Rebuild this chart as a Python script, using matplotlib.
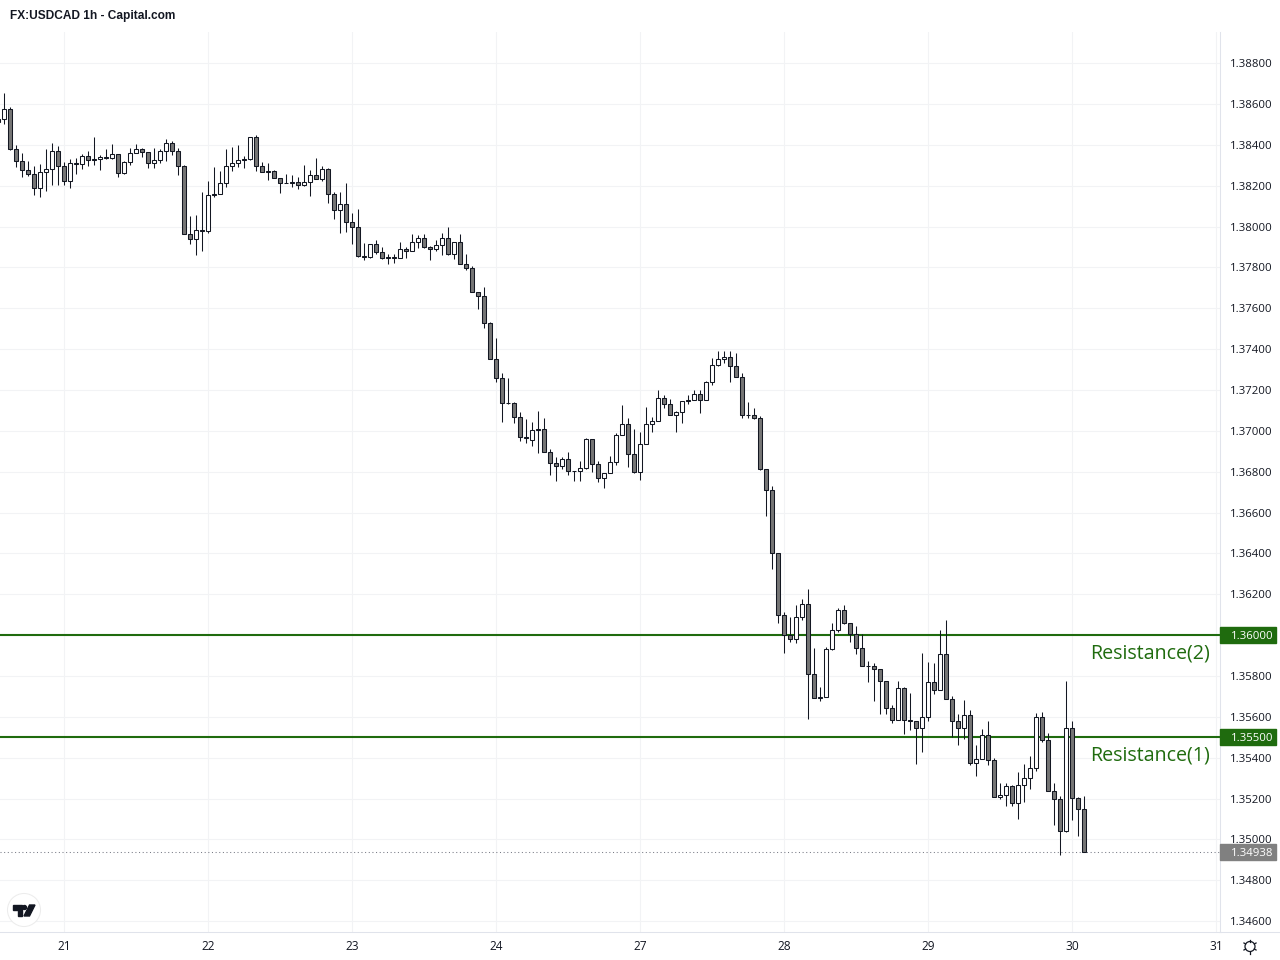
import matplotlib
matplotlib.use('Agg')
import matplotlib.pyplot as plt
import numpy as np
from matplotlib.lines import Line2D
from matplotlib.patches import Circle, Polygon, Rectangle
from matplotlib.transforms import Affine2D

# hourly candles
opens = [1.38527,
    1.38527, 1.38576, 1.38380, 1.38322, 1.38278, 1.38258, 1.38190, 1.38268, 1.38283, 1.38371,
    1.38297, 1.38224, 1.38312, 1.38307, 1.38346, 1.38331, 1.38331, 1.38341, 1.38336, 1.38356,
    1.38263, 1.38317, 1.38361, 1.38380, 1.38366, 1.38312, 1.38327, 1.38371, 1.38410, 1.38371,
    1.38297, 1.37965, 1.37940, 1.37984, 1.37979, 1.38160, 1.38160, 1.38214, 1.38297, 1.38311,
    1.38331, 1.38331, 1.38439, 1.38297, 1.38272, 1.38272, 1.38238, 1.38214, 1.38219, 1.38219,
    1.38204, 1.38219, 1.38253, 1.38233, 1.38282, 1.38160, 1.38082, 1.38111, 1.38023, 1.37999,
    1.37856, 1.37851, 1.37915, 1.37876, 1.37851, 1.37851, 1.37847, 1.37891, 1.37881, 1.37925,
    1.37944, 1.37900, 1.37891, 1.37910, 1.37944, 1.37866, 1.37925, 1.37817, 1.37798, 1.37680,
    1.37661, 1.37529, 1.37353, 1.37260, 1.37138, 1.37138, 1.37069, 1.36971, 1.36957, 1.37010,
    1.37010, 1.36897, 1.36843, 1.36828, 1.36862, 1.36804, 1.36804, 1.36818, 1.36960, 1.36838,
    1.36770, 1.36794, 1.36848, 1.36980, 1.37034, 1.36887, 1.36799, 1.36936, 1.37034, 1.37048,
    1.37161, 1.37131, 1.37078, 1.37092, 1.37151, 1.37151, 1.37180, 1.37151, 1.37239, 1.37322,
    1.37351, 1.37361, 1.37317, 1.37263, 1.37078, 1.37078, 1.37063, 1.36814, 1.36711, 1.36403,
    1.36100, 1.36002, 1.35982, 1.36090, 1.36152, 1.35810, 1.35698, 1.35698, 1.35932, 1.36025,
    1.36123, 1.36060, 1.36006, 1.35937, 1.35849, 1.35848, 1.35835, 1.35776, 1.35644, 1.35585,
    1.35742, 1.35585, 1.35580, 1.35546, 1.35600, 1.35771, 1.35732, 1.35908, 1.35688, 1.35580,
    1.35546, 1.35609, 1.35375, 1.35394, 1.35512, 1.35389, 1.35208, 1.35218, 1.35262, 1.35179,
    1.35267, 1.35301, 1.35350, 1.35600, 1.35487, 1.35238, 1.35199, 1.35042, 1.35546, 1.35204,
    1.35150]
highs = [1.38530,
    1.38654, 1.38586, 1.38400, 1.38361, 1.38322, 1.38297, 1.38307, 1.38380, 1.38410, 1.38395,
    1.38317, 1.38331, 1.38336, 1.38356, 1.38371, 1.38436, 1.38351, 1.38380, 1.38405, 1.38356,
    1.38322, 1.38385, 1.38405, 1.38385, 1.38366, 1.38385, 1.38380, 1.38429, 1.38420, 1.38385,
    1.38302, 1.38053, 1.38058, 1.38170, 1.38225, 1.38289, 1.38274, 1.38377, 1.38387, 1.38401,
    1.38347, 1.38439, 1.38450, 1.38318, 1.38313, 1.38277, 1.38238, 1.38259, 1.38250, 1.38240,
    1.38303, 1.38277, 1.38333, 1.38297, 1.38287, 1.38170, 1.38171, 1.38215, 1.38064, 1.38087,
    1.37920, 1.37915, 1.37935, 1.37900, 1.37866, 1.37866, 1.37925, 1.37900, 1.37961, 1.37956,
    1.37961, 1.37904, 1.37936, 1.37969, 1.38000, 1.37925, 1.37961, 1.37866, 1.37807, 1.37680,
    1.37705, 1.37534, 1.37455, 1.37284, 1.37260, 1.37142, 1.37093, 1.37059, 1.37045, 1.37098,
    1.37064, 1.36911, 1.36872, 1.36872, 1.36897, 1.36804, 1.36853, 1.36965, 1.36960, 1.36853,
    1.36794, 1.36877, 1.36990, 1.37127, 1.37063, 1.37009, 1.36994, 1.37117, 1.37068, 1.37200,
    1.37175, 1.37156, 1.37097, 1.37146, 1.37175, 1.37200, 1.37200, 1.37244, 1.37356, 1.37392,
    1.37392, 1.37392, 1.37381, 1.37283, 1.37143, 1.37112, 1.37073, 1.36814, 1.36730, 1.36403,
    1.36114, 1.36090, 1.36148, 1.36178, 1.36227, 1.35937, 1.35747, 1.35942, 1.36060, 1.36133,
    1.36148, 1.36060, 1.36045, 1.36006, 1.35872, 1.35862, 1.35835, 1.35776, 1.35659, 1.35776,
    1.35747, 1.35717, 1.35580, 1.35913, 1.35870, 1.35864, 1.36027, 1.36076, 1.35702, 1.35614,
    1.35683, 1.35634, 1.35463, 1.35541, 1.35580, 1.35399, 1.35277, 1.35277, 1.35267, 1.35331,
    1.35370, 1.35409, 1.35619, 1.35624, 1.35521, 1.35277, 1.35213, 1.35777, 1.35580, 1.35208,
    1.35213]
lows = [1.38505,
    1.38503, 1.38374, 1.38291, 1.38242, 1.38247, 1.38154, 1.38144, 1.38173, 1.38203, 1.38203,
    1.38203, 1.38188, 1.38255, 1.38283, 1.38296, 1.38300, 1.38276, 1.38330, 1.38331, 1.38242,
    1.38257, 1.38300, 1.38361, 1.38340, 1.38286, 1.38286, 1.38310, 1.38320, 1.38349, 1.38252,
    1.37965, 1.37914, 1.37860, 1.37880, 1.37968, 1.38144, 1.38160, 1.38193, 1.38271, 1.38289,
    1.38284, 1.38326, 1.38274, 1.38268, 1.38227, 1.38238, 1.38166, 1.38212, 1.38193, 1.38183,
    1.38197, 1.38147, 1.38233, 1.38222, 1.38114, 1.38039, 1.37968, 1.37972, 1.37914, 1.37850,
    1.37835, 1.37847, 1.37866, 1.37842, 1.37816, 1.37820, 1.37847, 1.37845, 1.37881, 1.37897,
    1.37894, 1.37835, 1.37881, 1.37860, 1.37860, 1.37840, 1.37817, 1.37786, 1.37680, 1.37595,
    1.37503, 1.37353, 1.37239, 1.37043, 1.37133, 1.37040, 1.36950, 1.36940, 1.36926, 1.36893,
    1.36898, 1.36783, 1.36753, 1.36814, 1.36783, 1.36753, 1.36753, 1.36814, 1.36797, 1.36748,
    1.36719, 1.36794, 1.36831, 1.36980, 1.36822, 1.36794, 1.36758, 1.36936, 1.36996, 1.37048,
    1.37110, 1.37078, 1.36993, 1.37039, 1.37130, 1.37151, 1.37086, 1.37151, 1.37224, 1.37317,
    1.37332, 1.37237, 1.37263, 1.37063, 1.37063, 1.37056, 1.36807, 1.36582, 1.36323, 1.36059,
    1.35912, 1.35966, 1.35961, 1.36074, 1.35588, 1.35693, 1.35677, 1.35696, 1.35928, 1.36014,
    1.36055, 1.35967, 1.35906, 1.35849, 1.35769, 1.35677, 1.35613, 1.35613, 1.35569, 1.35585,
    1.35515, 1.35535, 1.35368, 1.35427, 1.35578, 1.35712, 1.35732, 1.35688, 1.35500, 1.35461,
    1.35490, 1.35363, 1.35309, 1.35394, 1.35363, 1.35208, 1.35197, 1.35163, 1.35164, 1.35099,
    1.35182, 1.35246, 1.35334, 1.35476, 1.35238, 1.35070, 1.34923, 1.35037, 1.35094, 1.35016,
    1.34938]
closes = [1.38511,
    1.38576, 1.38380, 1.38322, 1.38278, 1.38258, 1.38190, 1.38268, 1.38283, 1.38371, 1.38297,
    1.38224, 1.38312, 1.38307, 1.38346, 1.38327, 1.38327, 1.38341, 1.38336, 1.38356, 1.38263,
    1.38317, 1.38361, 1.38380, 1.38366, 1.38312, 1.38327, 1.38371, 1.38410, 1.38371, 1.38297,
    1.37965, 1.37940, 1.37984, 1.37979, 1.38155, 1.38155, 1.38214, 1.38297, 1.38311, 1.38326,
    1.38326, 1.38439, 1.38297, 1.38268, 1.38268, 1.38238, 1.38214, 1.38212, 1.38214, 1.38204,
    1.38219, 1.38253, 1.38233, 1.38282, 1.38160, 1.38082, 1.38111, 1.38023, 1.37999, 1.37857,
    1.37851, 1.37915, 1.37876, 1.37847, 1.37847, 1.37847, 1.37891, 1.37881, 1.37925, 1.37944,
    1.37900, 1.37891, 1.37910, 1.37944, 1.37866, 1.37925, 1.37817, 1.37798, 1.37680, 1.37661,
    1.37529, 1.37353, 1.37260, 1.37138, 1.37136, 1.37069, 1.36971, 1.36966, 1.37005, 1.37005,
    1.36898, 1.36843, 1.36828, 1.36862, 1.36804, 1.36802, 1.36818, 1.36960, 1.36838, 1.36770,
    1.36794, 1.36848, 1.36980, 1.37034, 1.36887, 1.36799, 1.36936, 1.37034, 1.37048, 1.37161,
    1.37131, 1.37078, 1.37092, 1.37146, 1.37146, 1.37180, 1.37151, 1.37239, 1.37322, 1.37351,
    1.37361, 1.37317, 1.37263, 1.37078, 1.37076, 1.37063, 1.36812, 1.36711, 1.36403, 1.36100,
    1.36002, 1.35982, 1.36090, 1.36153, 1.35810, 1.35693, 1.35693, 1.35932, 1.36025, 1.36123,
    1.36060, 1.36006, 1.35937, 1.35849, 1.35848, 1.35833, 1.35776, 1.35644, 1.35585, 1.35742,
    1.35585, 1.35580, 1.35546, 1.35600, 1.35771, 1.35732, 1.35908, 1.35688, 1.35580, 1.35546,
    1.35609, 1.35375, 1.35394, 1.35512, 1.35389, 1.35208, 1.35218, 1.35262, 1.35179, 1.35267,
    1.35301, 1.35350, 1.35600, 1.35487, 1.35238, 1.35199, 1.35042, 1.35546, 1.35204, 1.35150,
    1.34938]

price_ticks = [1.346, 1.348, 1.350, 1.352, 1.354, 1.356, 1.358, 1.360, 1.362, 1.364, 1.366,
               1.368, 1.370, 1.372, 1.374, 1.376, 1.378, 1.380, 1.382, 1.384, 1.386, 1.388]
day_bars = [11, 35, 59, 83, 107, 131, 155, 179, 203]
day_labels = ['21', '22', '23', '24', '27', '28', '29', '30', '31']
levels = [1.36, 1.355]
level_names = ['Resistance(2)', 'Resistance(1)']
last_price = 1.34938
title = 'FX:USDCAD 1h - Capital.com'

GREEN = '#1f6b0e'
INK = '#131722'
BORDER = '#e0e3eb'
GRID = '#f2f3f5'

plt.rcParams['font.family'] = ['Open Sans', 'DejaVu Sans']

fig = plt.figure(figsize=(12.8, 9.6), dpi=100)
ax = fig.add_axes([0, (960 - 932) / 960, 1220 / 1280, 900 / 960])

o, h, l, c = map(np.array, (opens, highs, lows, closes))
x = np.arange(len(o))
up = c >= o

ax.vlines(x, l, h, color=INK, lw=0.75, zorder=3)
ax.bar(x, np.abs(c - o), bottom=np.minimum(o, c), width=0.667,
       color=np.where(up, 'white', '#757575'), edgecolor=INK, linewidth=0.75, zorder=4)

ax.set_xlim(1 / 3, 203 + 2 / 3)
ax.set_ylim(1.34547, 1.38952)
ax.set_yticks(price_ticks)
ax.set_yticklabels(['%.5f' % p for p in price_ticks])
ax.set_xticks(day_bars)
ax.set_xticklabels(day_labels)
ax.yaxis.tick_right()
ax.tick_params(axis='y', length=0, pad=7.5, labelsize=8.2, labelcolor=INK)
ax.tick_params(axis='x', length=0, pad=5.5, labelsize=8.6, labelcolor=INK)
ax.grid(True, color=GRID, lw=0.75, zorder=0)
ax.set_axisbelow(True)
for side in ('left', 'top'):
    ax.spines[side].set_visible(False)
for side in ('right', 'bottom'):
    ax.spines[side].set_color(BORDER)
    ax.spines[side].set_linewidth(0.75)

# price lines with their boxes on the axis
ytrans = ax.get_yaxis_transform()
for level, name in zip(levels, level_names):
    ax.axhline(level, color=GREEN, lw=1.5, zorder=2)
    ax.add_patch(Rectangle((1, level - 0.00039), 56 / 1220, 0.00078, transform=ytrans,
                           color=GREEN, clip_on=False, zorder=6))
    ax.text(1 + 10.5 / 1220, level, '%.5f' % level, transform=ytrans, color='white',
            fontsize=8.2, va='center_baseline', ha='left', zorder=7)
    ax.annotate(name, xy=(1210 / 1220, level), xycoords=ytrans, xytext=(0, -13.2),
                textcoords='offset points', ha='right', va='center', color=GREEN, fontsize=14.1)

ax.axhline(last_price, color='#787b86', lw=0.75, ls=(0, (1, 2.5)), zorder=2)
ax.add_patch(Rectangle((1, last_price - 0.00039), 56 / 1220, 0.00078, transform=ytrans,
                       color='#808080', clip_on=False, zorder=6))
ax.text(1 + 10.5 / 1220, last_price, '%.5f' % last_price, transform=ytrans, color='white',
        fontsize=8.2, va='center_baseline', ha='left', zorder=7)

# everything below is placed in picture pixels
px = Affine2D().scale(1, -1).translate(0, 960)

fig.text(10 / 1280, 1 - 15.5 / 960, title, family='Liberation Sans', weight='bold',
         fontsize=8.55, color=INK, va='center', ha='left')

fig.add_artist(Line2D([1220, 1280], [932, 932], color=BORDER, lw=0.75, transform=px))

# TradingView badge
fig.add_artist(Circle((24, 910), 16.5, facecolor='white', edgecolor='#ececec', lw=0.75,
                      transform=px, zorder=5))
fig.add_artist(Polygon([(13, 905), (22, 905), (22, 916), (17.5, 916), (17.5, 909.5), (13, 909.5)],
                       color=INK, transform=px, zorder=6))
fig.add_artist(Circle((24.5, 907.5), 2, color=INK, transform=px, zorder=6))
fig.add_artist(Polygon([(29.5, 905), (35, 905), (29.5, 916), (24, 916)],
                       color=INK, transform=px, zorder=6))

# settings gear
fig.add_artist(Circle((1250, 946.5), 5, facecolor='white', edgecolor=INK, lw=0.9, transform=px))
for a in np.deg2rad(np.arange(30, 360, 60)):
    fig.add_artist(Line2D([1250 + 5 * np.cos(a), 1250 + 7 * np.cos(a)],
                          [946.5 + 5 * np.sin(a), 946.5 + 7 * np.sin(a)],
                          color=INK, lw=0.9, transform=px))

fig.savefig('out.png', dpi=100)
